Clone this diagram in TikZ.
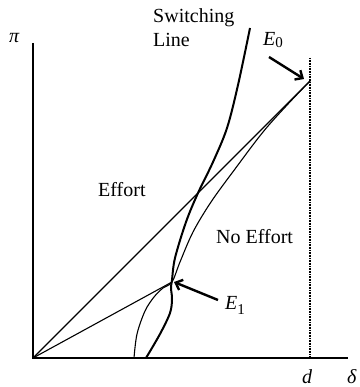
\documentclass[tikz,border=0pt]{standalone}
\usepackage{fontspec}
\setmainfont{Liberation Serif}
\usetikzlibrary{arrows.meta}
\begin{document}
\begin{tikzpicture}[x=1pt,y=-1pt,
  lbl/.style={anchor=base west, inner sep=0pt, font=\fontsize{20}{24}\selectfont},
  axis/.style={line width=1.4pt},
  thinc/.style={line width=1.1pt},
  thickc/.style={line width=2pt},
  ptr/.style={line width=2.4pt, -{Straight Barb[length=6pt,width=11pt]}},
  dotline/.style={line width=1.6pt, dash pattern=on 0.8pt off 0.8pt}]
\useasboundingbox (0,0) rectangle (359,387);
% key points
\coordinate (O) at (33,358);
\coordinate (Ytop) at (33,43);
\coordinate (Xend) at (348,358);
\coordinate (E0) at (310,81);
\coordinate (E1) at (172,282);
\coordinate (Dtop) at (310,58);
\coordinate (Dbot) at (310,358);
\coordinate (A0) at (269,57);
\coordinate (A0t) at (304,79);
\coordinate (A1) at (218,300);
\coordinate (A1t) at (174,282);
% axes
\draw[axis] (Ytop) -- (O) -- (Xend);
\draw[dotline] (Dtop) -- (Dbot);
% rays
\draw[thinc] (O) -- (E0);
\draw[thinc] (O) -- (E1);
% thin curve
\draw[thinc] plot[smooth, tension=0.55] coordinates {(134,358) (137,334) (145,311) (154,297) (163,288) (172,282) (180,262) (193,232) (211,202) (235,169) (263,132) (288,104) (310,81)};
% switching line
\draw[thickc] plot[smooth, tension=0.55] coordinates {(146,358) (160,334) (170,313) (172,299) (171,288) (172,280) (175,258) (186,222) (198,193) (213,162) (227,128) (238,85) (250,28)};
% pointers
\draw[ptr] (A0) -- (A0t);
\draw[ptr] (A1) -- (A1t);
% labels
\node[lbl] (sw) at (153,23) {Switching};
\node[lbl] (ln) at (153,47) {Line};
\node[lbl] (ef) at (98,196) {Effort};
\node[lbl] (ne) at (216,243) {No Effort};
\node[lbl] (le0) at (263,46) {\itshape E\/\raisebox{-2pt}{\upshape\fontsize{15}{15}\selectfont 0}};
\node[lbl] (le1) at (225,309) {\itshape E\/\raisebox{-5pt}{\upshape\fontsize{15}{15}\selectfont 1}};
\node[lbl] (pi) at (9,43) {\itshape π};
\node[lbl] (de) at (347,383) {\itshape δ};
\node[lbl] (dd) at (302,383) {\itshape d};
\end{tikzpicture}
\end{document}
